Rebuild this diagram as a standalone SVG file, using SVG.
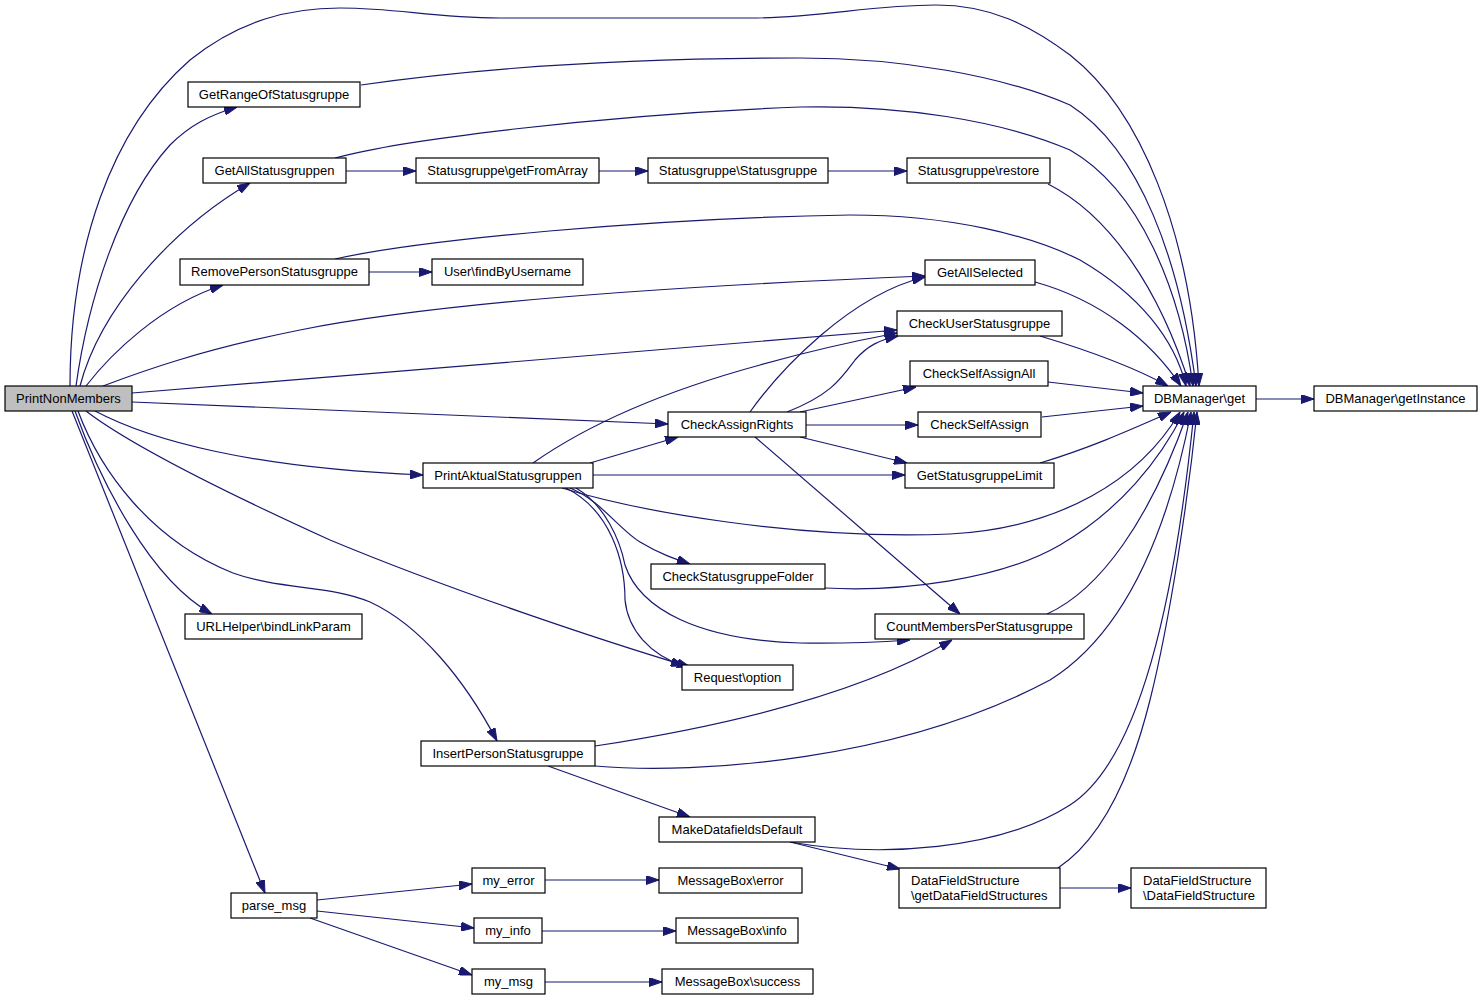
<svg xmlns="http://www.w3.org/2000/svg" width="1483" height="1001" viewBox="0 0 1483 1001">
<style>
.n rect{fill:#ffffff;stroke:#000000;stroke-width:1.2}
.n text{font-family:"Liberation Sans",Arial,sans-serif;font-size:13px;fill:#000000;text-anchor:middle}
.n text.l{text-anchor:start}
#e path{fill:none;stroke:#191970;stroke-width:1.2;marker-end:url(#a)}
</style>
<defs>
<marker id="a" viewBox="0 0 13 9" refX="13" refY="4.5" markerWidth="13" markerHeight="9" markerUnits="userSpaceOnUse" orient="auto">
<path d="M0,0 L13,4.5 L0,9 z" fill="#191970" stroke="#191970" stroke-width="1"/>
</marker>
</defs>
<rect width="1483" height="1001" fill="#ffffff"/>
<g id="e">
<path d="M70,386 C70,250 110,130 190,60 C240,20 290,8 340,8 C400,8 430,18 500,18 L750,18 C820,18 870,5 936,5 C990,5 1030,25 1070,55 C1140,110 1190,230 1199,386"/>
<path d="M76,386 C88,300 120,200 170,145 C190,125 210,115 237,107"/>
<path d="M80,386 C100,310 170,230 250,183"/>
<path d="M86,386 C110,355 160,305 223,285"/>
<path d="M103,386 C140,372 200,350 300,330 C450,300 700,285 925,276"/>
<path d="M132,393 C400,372 700,345 897,330"/>
<path d="M132,402 C350,410 550,418 668,424"/>
<path d="M95,411 C150,440 250,468 423,475"/>
<path d="M86,411 C130,445 220,490 330,540 C450,590 600,640 690,667"/>
<path d="M78,411 C100,470 150,540 233,573 C280,590 330,585 370,602 C420,625 465,680 497,741"/>
<path d="M75,411 C100,480 150,580 212,614"/>
<path d="M72,411 L265,893"/>
<path d="M361,85 C500,65 650,58 800,58 C900,58 1000,75 1070,105 C1140,150 1180,260 1196,386"/>
<path d="M335,158 C400,140 600,115 800,107 C900,105 1000,120 1070,150 C1140,190 1180,290 1193,386"/>
<path d="M346,171 L416,171"/>
<path d="M599,171 L648,171"/>
<path d="M828,171 L907,171"/>
<path d="M1048,184 C1110,215 1160,290 1190,386"/>
<path d="M335,259 C420,240 650,218 850,215 C950,215 1030,235 1080,260 C1140,295 1175,340 1186,386"/>
<path d="M369,272 L432,272"/>
<path d="M1035,282 C1100,300 1150,340 1181,386"/>
<path d="M1040,336 C1080,348 1130,365 1168,386"/>
<path d="M1048,382 L1143,393"/>
<path d="M1042,417 L1143,406"/>
<path d="M1040,463 C1090,448 1130,430 1171,412"/>
<path d="M1256,399 L1314,399"/>
<path d="M750,412 C780,370 850,295 925,277"/>
<path d="M787,412 C830,395 840,380 855,360 C868,345 880,340 898,336"/>
<path d="M800,412 L916,387"/>
<path d="M806,425 L918,425"/>
<path d="M800,437 L907,463"/>
<path d="M755,437 L960,614"/>
<path d="M533,463 C580,430 650,395 760,365 C820,348 860,340 897,333"/>
<path d="M590,463 L678,437"/>
<path d="M593,475 L905,475"/>
<path d="M562,488 C640,512 800,540 950,534 C1060,528 1140,480 1180,412"/>
<path d="M570,488 C600,500 620,530 640,542 C660,554 675,559 690,564"/>
<path d="M576,488 C605,505 620,540 625,565 C640,610 700,640 800,643 C850,644 880,642 910,640"/>
<path d="M566,488 C610,510 625,560 625,600 C628,630 650,655 684,666"/>
<path d="M825,588 C900,592 1000,580 1060,545 C1120,510 1160,460 1184,412"/>
<path d="M1047,614 C1100,590 1150,520 1188,412"/>
<path d="M595,746 C700,730 850,700 952,640"/>
<path d="M595,766 C700,775 900,760 1050,680 C1130,630 1170,520 1191,412"/>
<path d="M548,766 L690,817"/>
<path d="M790,842 C880,858 1000,850 1070,805 C1140,760 1175,600 1194,412"/>
<path d="M790,842 L900,869"/>
<path d="M1058,868 C1100,840 1130,780 1150,700 C1170,620 1188,500 1197,412"/>
<path d="M1060,888 L1131,888"/>
<path d="M317,900 L472,884"/>
<path d="M317,911 L474,928"/>
<path d="M310,918 L472,975"/>
<path d="M545,880 L659,880"/>
<path d="M542,931 L676,931"/>
<path d="M545,982 L662,982"/>
</g>
<g id="n0" class="n"><rect x="5" y="386" width="127" height="25" style="fill:#bfbfbf"/><text x="68.5" y="403">PrintNonMembers</text></g>
<g id="n1" class="n"><rect x="188" y="82" width="172" height="25"/><text x="274" y="99">GetRangeOfStatusgruppe</text></g>
<g id="n2" class="n"><rect x="203" y="158" width="143" height="25"/><text x="274.5" y="175">GetAllStatusgruppen</text></g>
<g id="n3" class="n"><rect x="416" y="158" width="183" height="25"/><text x="507.5" y="175">Statusgruppe\getFromArray</text></g>
<g id="n4" class="n"><rect x="648" y="158" width="180" height="25"/><text x="738" y="175">Statusgruppe\Statusgruppe</text></g>
<g id="n5" class="n"><rect x="907" y="158" width="143" height="25"/><text x="978.5" y="175">Statusgruppe\restore</text></g>
<g id="n6" class="n"><rect x="180" y="259" width="189" height="26"/><text x="274.5" y="276">RemovePersonStatusgruppe</text></g>
<g id="n7" class="n"><rect x="432" y="259" width="151" height="26"/><text x="507.5" y="276">User\findByUsername</text></g>
<g id="n8" class="n"><rect x="925" y="260" width="110" height="25"/><text x="980" y="277">GetAllSelected</text></g>
<g id="n9" class="n"><rect x="897" y="311" width="165" height="25"/><text x="979.5" y="328">CheckUserStatusgruppe</text></g>
<g id="n10" class="n"><rect x="910" y="361" width="138" height="25"/><text x="979" y="378">CheckSelfAssignAll</text></g>
<g id="n11" class="n"><rect x="1143" y="386" width="113" height="25"/><text x="1199.5" y="403">DBManager\get</text></g>
<g id="n12" class="n"><rect x="1314" y="386" width="163" height="25"/><text x="1395.5" y="403">DBManager\getInstance</text></g>
<g id="n13" class="n"><rect x="668" y="412" width="138" height="25"/><text x="737" y="429">CheckAssignRights</text></g>
<g id="n14" class="n"><rect x="918" y="412" width="123" height="25"/><text x="979.5" y="429">CheckSelfAssign</text></g>
<g id="n15" class="n"><rect x="423" y="463" width="170" height="25"/><text x="508" y="480">PrintAktualStatusgruppen</text></g>
<g id="n16" class="n"><rect x="905" y="463" width="149" height="25"/><text x="979.5" y="480">GetStatusgruppeLimit</text></g>
<g id="n17" class="n"><rect x="651" y="564" width="174" height="25"/><text x="738" y="581">CheckStatusgruppeFolder</text></g>
<g id="n18" class="n"><rect x="185" y="614" width="177" height="25"/><text x="273.5" y="631">URLHelper\bindLinkParam</text></g>
<g id="n19" class="n"><rect x="875" y="614" width="209" height="25"/><text x="979.5" y="631">CountMembersPerStatusgruppe</text></g>
<g id="n20" class="n"><rect x="682" y="665" width="111" height="25"/><text x="737.5" y="682">Request\option</text></g>
<g id="n21" class="n"><rect x="421" y="741" width="174" height="25"/><text x="508" y="758">InsertPersonStatusgruppe</text></g>
<g id="n22" class="n"><rect x="659" y="817" width="156" height="25"/><text x="737" y="834">MakeDatafieldsDefault</text></g>
<g id="n23" class="n"><rect x="472" y="868" width="73" height="25"/><text x="508.5" y="885">my_error</text></g>
<g id="n24" class="n"><rect x="659" y="868" width="143" height="25"/><text x="730.5" y="885">MessageBox\error</text></g>
<g id="n25" class="n"><rect x="899" y="868" width="161" height="40"/><text class="l" x="911" y="885">DataFieldStructure</text><text class="l" x="911" y="900">\getDataFieldStructures</text></g>
<g id="n26" class="n"><rect x="1131" y="868" width="135" height="40"/><text class="l" x="1143" y="885">DataFieldStructure</text><text class="l" x="1143" y="900">\DataFieldStructure</text></g>
<g id="n27" class="n"><rect x="231" y="893" width="86" height="25"/><text x="274" y="910">parse_msg</text></g>
<g id="n28" class="n"><rect x="474" y="918" width="68" height="25"/><text x="508" y="935">my_info</text></g>
<g id="n29" class="n"><rect x="676" y="918" width="122" height="25"/><text x="737" y="935">MessageBox\info</text></g>
<g id="n30" class="n"><rect x="472" y="969" width="73" height="25"/><text x="508.5" y="986">my_msg</text></g>
<g id="n31" class="n"><rect x="662" y="969" width="151" height="25"/><text x="737.5" y="986">MessageBox\success</text></g>
</svg>
